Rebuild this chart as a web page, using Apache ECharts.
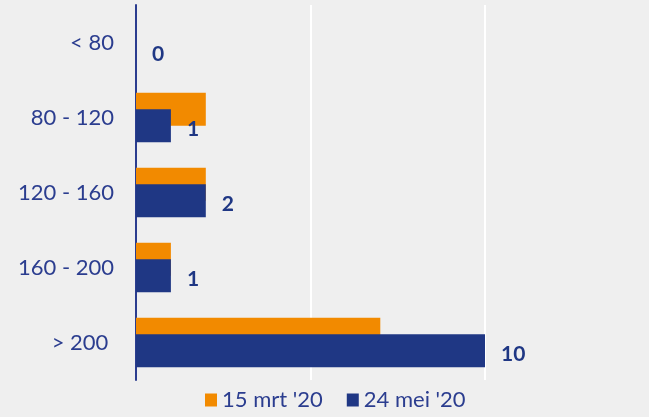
<!DOCTYPE html>
<html><head><meta charset="utf-8">
<script src="https://cdn.jsdelivr.net/npm/echarts@6/dist/echarts.min.js"></script>
<style>html,body{margin:0;padding:0;background:#efefef;}#c{width:649px;height:417px;}</style>
</head><body><div id="c"></div>
<script>
var categories = ['< 80', '80 - 120', '120 - 160', '160 - 200', '> 200 '];
var seriesNames = ["15 mrt '20", "24 mei '20"];
var mrtValues = [0, 2, 2, 1, 7];
var meiValues = [0, 1, 2, 1, 10];
var textColor = '#2b3d8f';
var chart = echarts.init(document.getElementById('c'));
chart.setOption({
  backgroundColor: '#efefef',
  animation: false,
  grid: {left: 136, right: 164, top: 5, bottom: 37, containLabel: false},
  xAxis: {
    type: 'value', min: 0, max: 10, interval: 5,
    axisLabel: {show: false}, axisLine: {show: false}, axisTick: {show: false},
    splitLine: {show: true, lineStyle: {color: '#ffffff', width: 2}}
  },
  yAxis: {
    type: 'category', data: categories, inverse: true,
    axisLine: {show: true, lineStyle: {color: '#2b3d8f', width: 2}},
    axisTick: {show: false},
    axisLabel: {color: textColor, fontSize: 22, fontFamily: 'Lato', margin: 22}
  },
  legend: {
    bottom: 1, left: 200, icon: 'rect', itemWidth: 12, itemHeight: 13, itemGap: 24,
    textStyle: {color: textColor, fontSize: 22, fontFamily: 'Lato'},
    data: seriesNames
  },
  series: [
    {name: seriesNames[0], type: 'bar', data: mrtValues, barWidth: 33, barGap: '-50%',
     itemStyle: {color: '#f28a00'}},
    {name: seriesNames[1], type: 'bar', data: meiValues, barWidth: 33, barGap: '-50%',
     itemStyle: {color: '#1f3784'},
     label: {show: true, position: 'right', distance: 16, offset: [0, 3], color: '#1f3784',
       fontSize: 21, fontWeight: 'bold', fontFamily: 'Lato'}}
  ]
});
</script></body></html>
